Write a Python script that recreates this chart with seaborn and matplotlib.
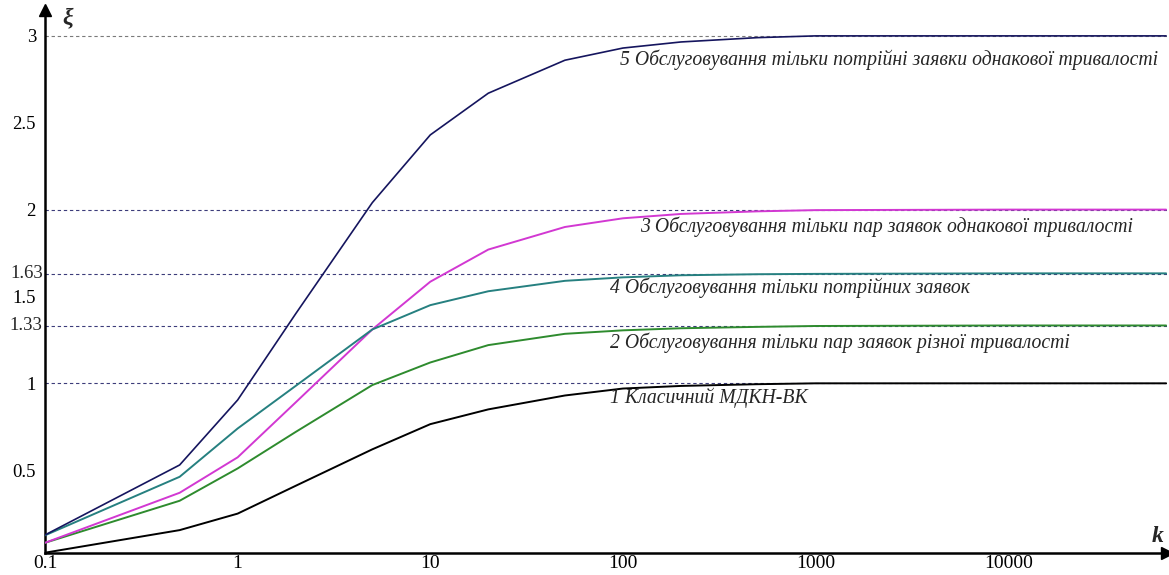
import numpy as np
import pandas as pd
import seaborn as sns
import matplotlib.pyplot as plt
from matplotlib.ticker import NullLocator

# k values (log axis) and the five curves xi(k)
k = [0.1, 0.5, 1, 2, 5, 10, 20, 50, 100, 200, 500, 1000, 10000, 66000]
xi_1 = [0.025, 0.155, 0.25, 0.41, 0.62, 0.765, 0.85, 0.93, 0.97, 0.985, 0.995, 1.0, 1.0, 1.0]
xi_2 = [0.082, 0.324, 0.51, 0.72, 0.99, 1.12, 1.22, 1.285, 1.305, 1.317, 1.325, 1.33, 1.333, 1.333]
xi_3 = [0.082, 0.37, 0.574, 0.89, 1.31, 1.585, 1.77, 1.9, 1.95, 1.975, 1.99, 1.997, 2.0, 2.0]
xi_4 = [0.125, 0.462, 0.74, 0.985, 1.31, 1.45, 1.53, 1.59, 1.61, 1.622, 1.628, 1.63, 1.633, 1.633]
xi_5 = [0.127, 0.53, 0.904, 1.40, 2.04, 2.43, 2.67, 2.86, 2.93, 2.965, 2.99, 3.0, 3.0, 3.0]

labels = [
    '1 Класичний МДКН-ВК',
    '2 Обслуговування тільки пар заявок різної тривалості',
    '3 Обслуговування тільки пар заявок однакової тривалості',
    '4 Обслуговування тільки потрійних заявок',
    '5 Обслуговування тільки потрійні заявки однакової тривалості',
]
colors = ['#000000', '#2e8b2e', '#d238d2', '#268080', '#15155e']
limits = [1, 1.33, 1.63, 2, 3]
limit_colors = ['#3c3c7a', '#3c3c7a', '#3c3c7a', '#3c3c7a', '#7a7a7a']
yticks = [0.5, 1, 1.5, 2, 2.5, 3]
ytick_labels = ['0.5', '1', '1.5', '2', '2.5', '3']
ymarks = [1.33, 1.63]
ymark_labels = ['1.33', '1.63']
xticks = [0.1, 1, 10, 100, 1000, 10000]
xtick_labels = ['0.1', '1', '10', '100', '1000', '10000']

df = pd.DataFrame({
    'k': k * 5,
    'xi': xi_1 + xi_2 + xi_3 + xi_4 + xi_5,
    'curve': sum([[lab] * len(k) for lab in labels], []),
})

sns.set_style('white')
plt.rcParams['font.family'] = ['Liberation Serif', 'DejaVu Serif']

fig = plt.figure(figsize=(11.69, 5.75), dpi=100)
ax = fig.add_axes([45 / 1169, 22.3 / 575, 1122 / 1169, 542.7 / 575])

for lim, c in zip(limits, limit_colors):
    ax.axhline(lim, color=c, lw=0.8, dashes=(3, 2.5), zorder=1)

sns.lineplot(data=df, x='k', y='xi', hue='curve', palette=dict(zip(labels, colors)),
             estimator=None, legend=False, ax=ax, lw=1.4, zorder=3)
ax.lines[-1].set_linewidth(1.2)

ax.set_xscale('log')
ax.set_xlim(0.1, 66700)
ax.set_ylim(0.025, 3.149)
ax.set_xticks(xticks, xtick_labels)
ax.set_yticks(yticks, ytick_labels)
ax.xaxis.set_minor_locator(NullLocator())
ax.tick_params(axis='x', direction='inout', length=9, width=1, labelsize=14, pad=-3,
               colors='black')
ax.tick_params(axis='y', direction='inout', length=11, width=1, labelsize=13.5, pad=1,
               colors='black')
ax.set_xlabel('')
ax.set_ylabel('')

# extra level labels without tick marks
for val, txt in zip(ymarks, ymark_labels):
    ax.text(-0.002, val, txt, transform=ax.get_yaxis_transform(), fontsize=13.5,
            ha='right', va='center')

for side in ['top', 'right']:
    ax.spines[side].set_visible(False)
for side in ['left', 'bottom']:
    ax.spines[side].set_linewidth(1.8)
    ax.spines[side].set_color('black')
ax.plot(1, 0, '>k', transform=ax.transAxes, clip_on=False, markersize=9)
ax.plot(0, 1, '^k', transform=ax.transAxes, clip_on=False, markersize=9)

fig.text(62 / 1169, 1 - 18 / 575, 'ξ', fontsize=17, fontweight='bold', style='italic',
         va='center', ha='left')
fig.text(1158 / 1169, 1 - 536 / 575, 'k', fontsize=17, fontweight='bold', style='italic',
         va='center', ha='center')

# curve captions
cap_pos = [(610, 398), (610, 343), (640, 227), (610, 288), (620, 60)]
for lab, (px, py) in zip(labels, cap_pos):
    fig.text(px / 1169, 1 - py / 575, lab, fontsize=14.2, style='italic',
             va='center', ha='left')

fig.savefig('out.png', dpi=100)
